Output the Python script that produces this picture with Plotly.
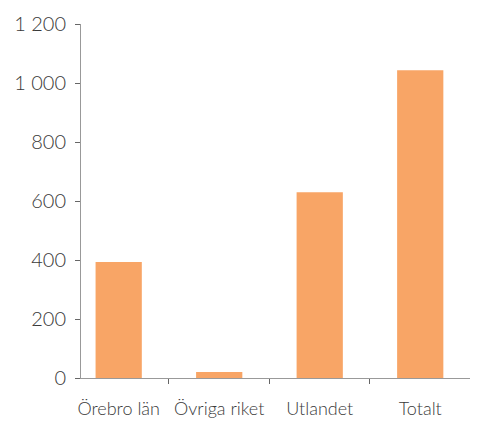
import plotly.graph_objects as go

# Kategorier och värden
kategorier = ["Örebro län", "Övriga riket", "Utlandet", "Totalt"]
antal = [393, 20, 630, 1043]
y_ticks = [0, 200, 400, 600, 800, 1000, 1200]
y_labels = ["0", "200", "400", "600", "800", "1 000", "1 200"]

fig = go.Figure(go.Bar(
    x=kategorier,
    y=antal,
    marker=dict(color="#F8A566", line=dict(width=0)),
))

fig.update_layout(
    width=478,
    height=421,
    margin=dict(l=73, r=14, t=16, b=51),
    paper_bgcolor="white",
    plot_bgcolor="white",
    bargap=0.54,
    showlegend=False,
    font=dict(family="Lato", size=19, color="#3a3a3a", weight=300),
)

fig.update_xaxes(
    range=[-0.375, 3.515],
    showline=True, linecolor="#999999", linewidth=1,
    ticks="outside", tickson="boundaries", ticklen=5, tickcolor="#666666",
    showgrid=False, tickfont=dict(size=18), ticklabelstandoff=14,
    tickangle=0, automargin=False,
)
fig.update_yaxes(
    range=[0, 1200],
    tickvals=y_ticks, ticktext=y_labels,
    showline=True, linecolor="#999999", linewidth=1,
    ticks="outside", ticklen=5, tickcolor="#666666",
    showgrid=False, zeroline=False, tickfont=dict(size=20),
    ticklabelstandoff=5, automargin=False,
)

fig.write_html("out.html")
